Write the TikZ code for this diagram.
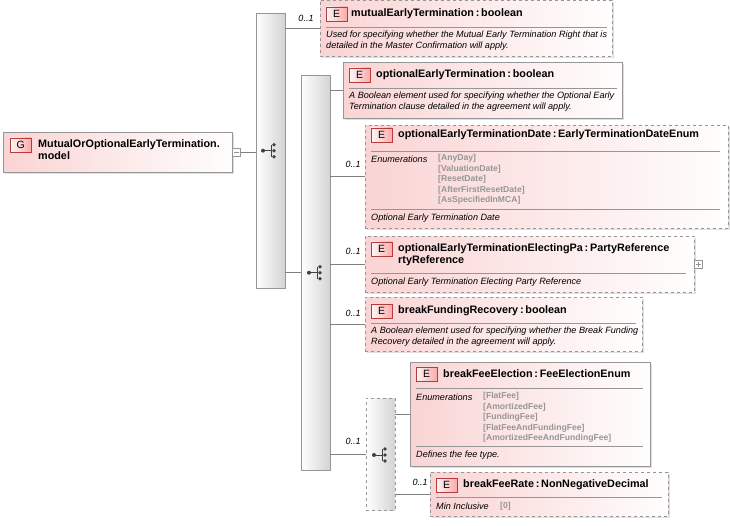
\documentclass[tikz,border=0pt]{standalone}
\usepackage{fontspec}
\setmainfont{Liberation Sans}
\usetikzlibrary{positioning,shadows,calc}
\definecolor{boxpink}{RGB}{250,212,212}
\definecolor{boxedge}{RGB}{150,150,150}
\definecolor{iconred}{RGB}{180,60,60}
\definecolor{enumgray}{RGB}{150,150,150}
\newcommand{\eltitle}{\fontsize{10.8}{12}\selectfont\bfseries}
\newcommand{\eldesc}{\fontsize{9.1}{11}\selectfont\itshape}
\newcommand{\elenum}{\fontsize{8.6}{10.6}\selectfont\bfseries\color{enumgray}}
% sequence symbol
\newcommand{\seqicon}[1]{%
  \fill[black!75] ($(#1)+(-8,0)$) circle (2);
  \draw[black!75, thick] ($(#1)+(-8,0)$) -- ($(#1)+(0,0)$) ($(#1)+(0,-6)$) -- ($(#1)+(0,6)$);
  \foreach \dy in {-6,0,6} \fill[black!75] ($(#1)+(3,\dy)$) circle (1.9);
}

\begin{document}
\begin{tikzpicture}[
  x=1pt, y=-1pt,
  box/.style={draw=boxedge, left color=boxpink, right color=white!97!boxpink,
    anchor=north west, inner sep=0pt, drop shadow={shadow xshift=2pt, shadow yshift=-2pt, fill=black!25}},
  optbox/.style={box, dashed},
  bar/.style={draw=boxedge, left color=white, right color=black!17, anchor=north west, inner sep=0pt},
  optbar/.style={bar, dashed},
  icon/.style={draw=iconred, left color=white!80!boxpink, right color=boxpink!80!red, anchor=west,
    minimum width=21pt, minimum height=14pt, inner sep=0pt, font=\fontsize{10.5}{11}\selectfont},
  occ/.style={font=\fontsize{9}{9}\selectfont\itshape, anchor=south},
  sep/.style={draw=boxedge, thin},
  conn/.style={draw=black!50, thin},
]
\useasboundingbox (0,0) rectangle (730,526);

% group
\node[box, minimum width=229pt, minimum height=40pt] (grp) at (3,132) {};
\node[icon] (gicon) at (10,145) {G};
\node[anchor=north west, align=left, font=\eltitle, inner sep=0pt] at (38,139)
  {MutualOrOptionalEarlyTermination.\\model};
\node[draw=boxedge, fill=white, minimum size=8pt, inner sep=0pt, anchor=west] (gmin) at (grp.east) {};
\draw[boxedge] ($(gmin.center)+(-2.5,0)$) -- ($(gmin.center)+(2.5,0)$);

% sequences
\node[bar, minimum width=29pt, minimum height=275pt] (seqa) at (256,13) {};
\node[bar, minimum width=29pt, minimum height=395pt] (seqb) at (301,75) {};
\node[optbar, minimum width=29pt, minimum height=112pt] (seqc) at (366,398) {};
\coordinate (ca) at ($(seqa.west)+(15,0)$);
\coordinate (cb) at ($(seqb.west)+(16,0)$);
\coordinate (cc) at (382,455);

% elements
\node[optbox, minimum width=292pt, minimum height=56pt] (mutual) at (320,0) {};
\node[box, minimum width=279pt, minimum height=56pt] (optterm) at (343,62) {};
\node[optbox, minimum width=363pt, minimum height=103pt] (optdate) at (365,125) {};
\node[optbox, minimum width=329pt, minimum height=56pt] (elect) at (365,236) {};
\node[optbox, minimum width=277pt, minimum height=54pt] (funding) at (365,297) {};
\node[box, minimum width=240pt, minimum height=104pt] (feeelect) at (410,362) {};
\node[optbox, minimum width=238pt, minimum height=44pt] (feerate) at (430,472) {};

\begin{scope}[every node/.style={anchor=west, inner sep=0pt}]
% mutualEarlyTermination
\node[icon] at (326,14) {E};
\node[font=\eltitle] at (351,14) {mutualEarlyTermination\,:\,boolean};
\draw[sep] (326,27) -- (607,27);
\node[font=\eldesc, align=left, anchor=north west] at (326,31)
  {Used for specifying whether the Mutual Early Termination Right that is\\detailed in the Master Confirmation will apply.};
% optionalEarlyTermination
\node[icon] at (349,75) {E};
\node[font=\eltitle] at (376,75) {optionalEarlyTermination\,:\,boolean};
\draw[sep] (349,88) -- (617,88);
\node[font=\eldesc, align=left, anchor=north west] at (349,92)
  {A Boolean element used for specifying whether the Optional Early\\Termination clause detailed in the agreement will apply.};
% optionalEarlyTerminationDate
\node[icon] at (371,135) {E};
\node[font=\eltitle] at (398,135) {optionalEarlyTerminationDate\,:\,EarlyTerminationDateEnum};
\draw[sep] (371,151) -- (720,151);
\node[font=\eldesc] at (371,159) {Enumerations};
\node[font=\elenum, align=left, anchor=north west] at (438,154)
  {[AnyDay]\\{}[ValuationDate]\\{}[ResetDate]\\{}[AfterFirstResetDate]\\{}[AsSpecifiedInMCA]};
\draw[sep] (371,209) -- (720,209);
\node[font=\eldesc] at (371,218) {Optional Early Termination Date};
% electing party
\node[icon] at (371,249) {E};
\node[font=\eltitle, align=left, anchor=north west] at (398,243)
  {optionalEarlyTerminationElectingPa\,:\,PartyReference\\rtyReference};
\draw[sep] (371,273) -- (686,273);
\node[font=\eldesc] at (371,282) {Optional Early Termination Electing Party Reference};
\node[draw=boxedge, fill=white, minimum size=8pt, anchor=west] (eplus) at (elect.east) {};
\draw[boxedge] ($(eplus.center)+(-2.5,0)$) -- ($(eplus.center)+(2.5,0)$)
  ($(eplus.center)+(0,-2.5)$) -- ($(eplus.center)+(0,2.5)$);
% breakFundingRecovery
\node[icon] at (371,311) {E};
\node[font=\eltitle] at (398,311) {breakFundingRecovery\,:\,boolean};
\draw[sep] (371,323) -- (636,323);
\node[font=\eldesc, align=left, anchor=north west] at (371,327)
  {A Boolean element used for specifying whether the Break Funding\\Recovery detailed in the agreement will apply.};
% breakFeeElection
\node[icon] at (416,374) {E};
\node[font=\eltitle] at (443,374) {breakFeeElection\,:\,FeeElectionEnum};
\draw[sep] (416,388) -- (643,388);
\node[font=\eldesc] at (416,397) {Enumerations};
\node[font=\elenum, align=left, anchor=north west] at (483,392)
  {[FlatFee]\\{}[AmortizedFee]\\{}[FundingFee]\\{}[FlatFeeAndFundingFee]\\{}[AmortizedFeeAndFundingFee]};
\draw[sep] (416,446) -- (643,446);
\node[font=\eldesc] at (416,455) {Defines the fee type.};
% breakFeeRate
\node[icon] at (436,485) {E};
\node[font=\eltitle] at (463,485) {breakFeeRate\,:\,NonNegativeDecimal};
\draw[sep] (436,497) -- (662,497);
\node[font=\eldesc] at (436,506) {Min Inclusive};
\node[font=\elenum] at (500,506) {[0]};
\end{scope}

% connectors
\draw[conn] (gmin.east) -- (gmin.east -| seqa.west);
\draw[conn] (mutual.west -| seqa.east) -- (mutual.west);
\draw[conn] (seqb.west -| seqa.east) -- (seqb.west);
\draw[conn] (optterm.west -| seqb.east) -- (optterm.west);
\draw[conn] (optdate.west -| seqb.east) -- (optdate.west);
\draw[conn] (elect.west -| seqb.east) -- (elect.west);
\draw[conn] (funding.west -| seqb.east) -- (funding.west);
\draw[conn] (seqc.west -| seqb.east) -- (seqc.west);
\draw[conn] (feeelect.west -| seqc.east) -- (feeelect.west);
\draw[conn] (feerate.west -| seqc.east) -- (feerate.west);

% occurrences
\node[occ] at (306,25) {0..1};
\node[occ] at (353,171) {0..1};
\node[occ] at (353,258) {0..1};
\node[occ] at (353,320) {0..1};
\node[occ] at (353,448) {0..1};
\node[occ] at (420,489) {0..1};

\seqicon{ca}
\seqicon{cb |- seqb.center}
\seqicon{cc}
\end{tikzpicture}
\end{document}
